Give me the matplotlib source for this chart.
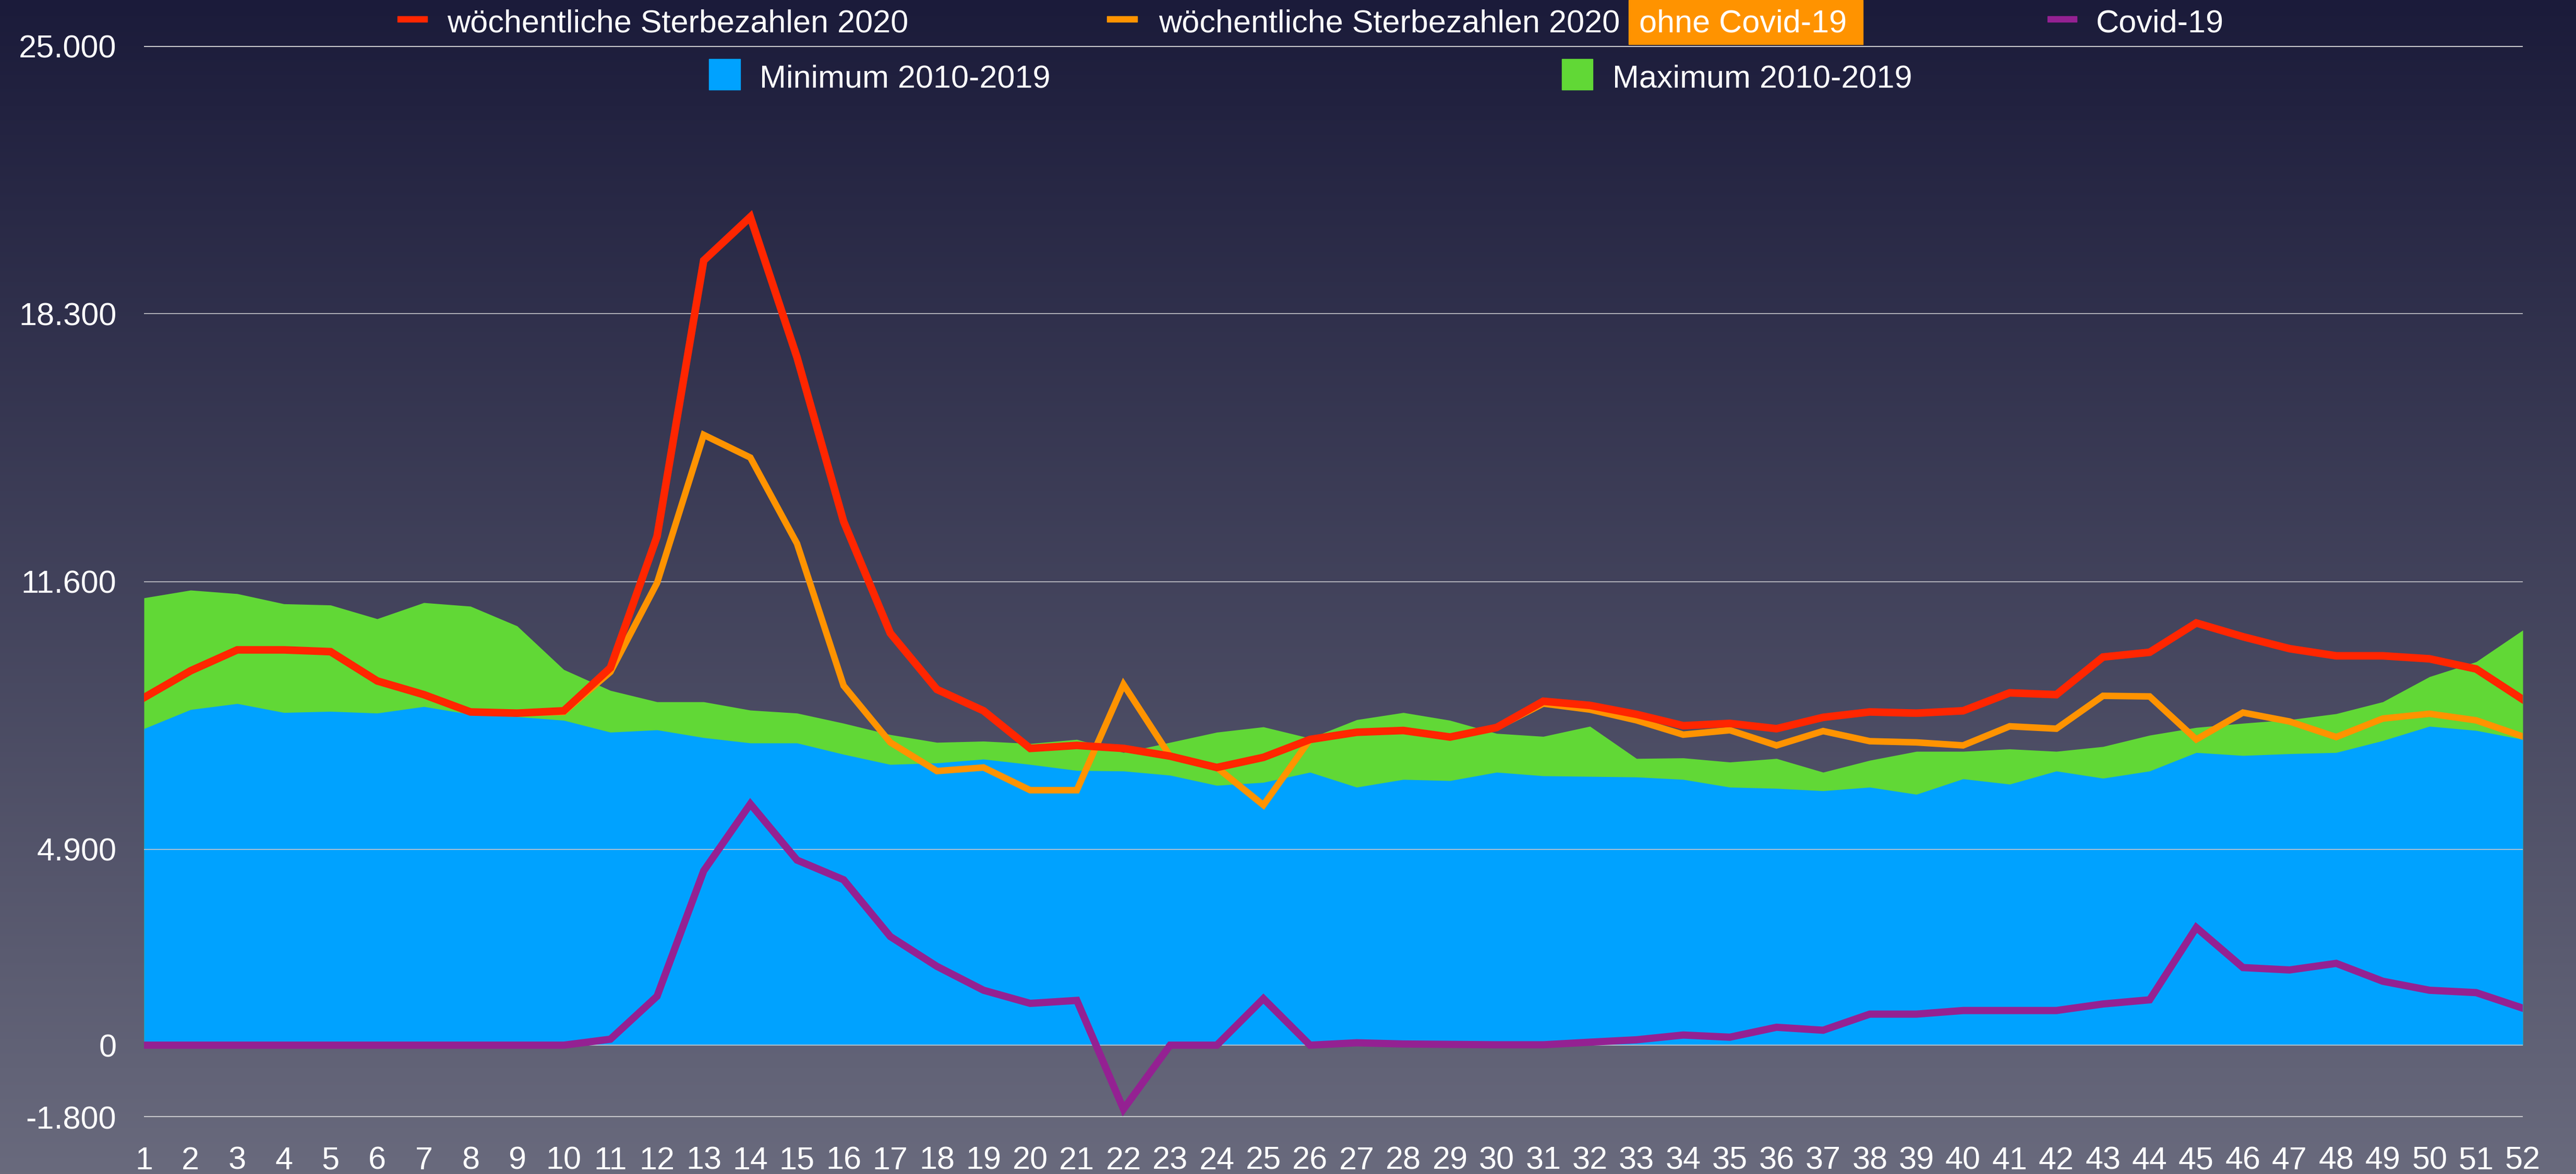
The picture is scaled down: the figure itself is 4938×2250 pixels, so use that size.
import numpy as np
import matplotlib
matplotlib.use("Agg")
import matplotlib.pyplot as plt
from matplotlib.patches import Rectangle

plt.rcParams['font.family'] = ['Liberation Sans', 'DejaVu Sans']

# data
weeks = list(range(1, 53))

sterbe_2020 = [8695, 9367, 9890, 9890, 9845, 9113, 8770, 8337, 8307, 8366,
               9442, 12729, 19631, 20722, 17211, 13102, 10309, 8900, 8366, 7425,
               7500, 7425, 7231, 6947, 7201, 7649, 7829, 7873, 7709, 7948,
               8605, 8501, 8277, 7993, 8050, 7918, 8202, 8337, 8307, 8366,
               8815, 8770, 9711, 9830, 10563, 10219, 9920, 9741, 9741, 9666,
               9412, 8650]

sterbe_ohne_covid = [8695, 9367, 9890, 9890, 9845, 9113, 8770, 8337, 8307, 8337,
                     9338, 11564, 15269, 14701, 12550, 8994, 7575, 6858, 6947, 6379,
                     6379, 9024, 7231, 6947, 6006, 7649, 7829, 7873, 7709, 7948,
                     8546, 8396, 8127, 7769, 7880, 7500, 7858, 7605, 7575, 7500,
                     7978, 7918, 8740, 8725, 7649, 8321, 8098, 7709, 8172, 8292,
                     8127, 7724]

covid = [0, 0, 0, 0, 0, 0, 0, 0, 0, 0,
         150, 1225, 4362, 6036, 4631, 4138, 2719, 1972, 1374, 1046,
         1120, -1600, 0, 0, 1165, 0, 60, 30, 20, 10,
         10, 75, 135, 254, 200, 448, 374, 777, 777, 867,
         867, 867, 1031, 1135, 2943, 1942, 1882, 2047, 1599, 1374,
         1315, 926]

maximum = [11190, 11384, 11295, 11041, 11011, 10667, 11071, 10981, 10488, 9397,
           8874, 8590, 8590, 8381, 8307, 8053, 7769, 7575, 7605, 7545,
           7649, 7321, 7575, 7829, 7963, 7679, 8142, 8321, 8127, 7799,
           7724, 7978, 7171, 7186, 7082, 7171, 6828, 7126, 7350, 7350,
           7410, 7350, 7470, 7754, 7948, 8053, 8142, 8292, 8590, 9218,
           9591, 10383]

minimum = [7918, 8396, 8546, 8322, 8351, 8307, 8471, 8277, 8217, 8127,
           7829, 7888, 7694, 7560, 7560, 7276, 7022, 7060, 7156, 7022,
           6872, 6858, 6753, 6499, 6574, 6828, 6454, 6648, 6618, 6828,
           6738, 6723, 6708, 6648, 6454, 6424, 6364, 6454, 6275, 6663,
           6529, 6858, 6678, 6858, 7321, 7246, 7291, 7321, 7619, 7978,
           7873, 7649]

y_ticks = [-1800, 0, 4900, 11600, 18300, 25000]
y_labels = ['-1.800', '0', '4.900', '11.600', '18.300', '25.000']

RED = '#FF2600'
ORANGE = '#FF9300'
PURPLE = '#942192'
BLUE = '#00A2FF'
GREEN = '#61D836'

W, H = 4938, 2250
fig = plt.figure(figsize=(W / 100, H / 100), dpi=100)

# background gradient
bg = fig.add_axes([0, 0, 1, 1])
top = np.array([27, 27, 58]) / 255
bot = np.array([105, 106, 125]) / 255
t = np.linspace(0, 1, 512)[:, None]
grad = top + (bot - top) * t
bg.imshow(grad[:, None, :].repeat(2, axis=1), aspect='auto', extent=[0, 1, 0, 1])
bg.axis('off')

left, right = 276 / W, 4836 / W
bottom, topy = 1 - 2141 / H, 1 - 88 / H
ax = fig.add_axes([left, bottom, right - left, topy - bottom])
ax.set_facecolor('none')

ax.fill_between(weeks, 0, maximum, color=GREEN, lw=0, zorder=1)
ax.fill_between(weeks, 0, minimum, color=BLUE, lw=0, zorder=1.5)

for yv in y_ticks:
    lw = 3 if yv in (-1800, 25000) else 1.2
    ax.axhline(yv, color='#c8c8cc', lw=lw, zorder=2)

ax.plot(weeks, sterbe_ohne_covid, color=ORANGE, lw=9, solid_joinstyle='miter', zorder=3)
ax.plot(weeks, sterbe_2020, color=RED, lw=10.5, solid_joinstyle='miter', zorder=4)
ax.plot(weeks, covid, color=PURPLE, lw=10, solid_joinstyle='miter', zorder=5)

ax.set_xlim(1, 52)
ax.set_ylim(-1800, 25000)
ax.set_xticks(weeks)
ax.set_xticklabels([str(w) for w in weeks])
ax.set_yticks(y_ticks)
ax.set_yticklabels(y_labels)
ax.tick_params(axis='both', length=0, colors='white', labelsize=44)
ax.tick_params(axis='x', pad=40)
ax.tick_params(axis='y', pad=38)
for s in ax.spines.values():
    s.set_visible(False)


def fx(px):
    return px / W


def fy(py):
    return 1 - py / H


fs = 44
# legend row 1
fig.patches.append(Rectangle((fx(762), fy(42)), fx(57), 11 / H, color=RED, transform=fig.transFigure))
fig.text(fx(857), fy(61), 'wöchentliche Sterbezahlen 2020', color='white', fontsize=fs, va='baseline')
fig.patches.append(Rectangle((fx(2122), fy(42)), fx(58), 11 / H, color=ORANGE, transform=fig.transFigure))
fig.text(fx(2221), fy(61), 'wöchentliche Sterbezahlen 2020', color='white', fontsize=fs, va='baseline')
fig.patches.append(Rectangle((fx(3122), fy(85)), fx(449), 85 / H, color=ORANGE, transform=fig.transFigure))
fig.text(fx(3142), fy(61), 'ohne Covid-19', color='white', fontsize=fs, va='baseline')
fig.patches.append(Rectangle((fx(3925), fy(42)), fx(56), 11 / H, color=PURPLE, transform=fig.transFigure))
fig.text(fx(4018), fy(61), 'Covid-19', color='white', fontsize=fs, va='baseline')

# legend row 2
fig.patches.append(Rectangle((fx(1359), fy(172)), fx(60), 59 / H, color=BLUE, transform=fig.transFigure))
fig.text(fx(1456), fy(167), 'Minimum 2010-2019', color='white', fontsize=fs, va='baseline')
fig.patches.append(Rectangle((fx(2994), fy(172)), fx(59), 59 / H, color=GREEN, transform=fig.transFigure))
fig.text(fx(3091), fy(167), 'Maximum 2010-2019', color='white', fontsize=fs, va='baseline')

fig.savefig('out.png', dpi=100)
